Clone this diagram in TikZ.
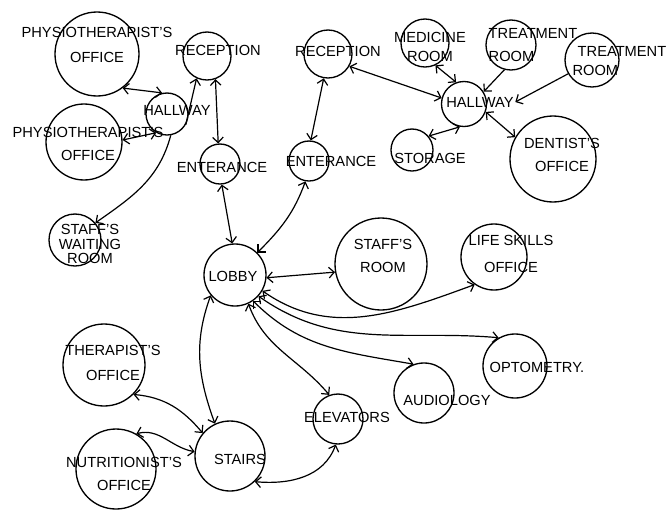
\documentclass[tikz,border=0pt]{standalone}
\usepackage{fontspec}
\setmainfont{Liberation Sans}
\usetikzlibrary{arrows.meta}
\tikzstyle{room} = [draw, circle, inner sep=0pt, line width=1pt]
\tikzstyle{tag} = [align=center, inner sep=1pt, font=\fontsize{11}{12.6}\selectfont]
\tikzstyle{arrow} = [line width=0.9pt, ->, >={Straight Barb[length=4pt,width=8pt]}]
\tikzstyle{both} = [arrow, <->]

\begin{document}
\begin{tikzpicture}[x=0.75pt, y=-0.75pt]
\useasboundingbox (0,0) rectangle (672,522);
% rooms
\node[room, minimum size=63pt] (phys1) at (97,54) {};
\node[room, minimum size=57pt] (phys2) at (84,142) {};
\node[room, minimum size=31.5pt] (hallL) at (167,114) {};
\node[room, minimum size=36pt] (recL) at (207,56) {};
\node[room, minimum size=30pt] (entL) at (220,164) {};
\node[room, minimum size=30pt] (entR) at (309,161) {};
\node[room, minimum size=36pt] (recR) at (328,54) {};
\node[room, minimum size=36pt] (med) at (425,43) {};
\node[room, minimum size=37.5pt] (treat1) at (511,45) {};
\node[room, minimum size=40.5pt] (treat2) at (592,60) {};
\node[room, minimum size=33.75pt] (hallR) at (464,104) {};
\node[room, minimum size=31.5pt] (stor) at (412,150) {};
\node[room, minimum size=64.5pt] (dent) at (553,159) {};
\node[room, minimum size=39pt] (waitR) at (75,240) {};
\node[room, minimum size=46.5pt] (lobby) at (235,275) {};
\node[room, minimum size=69pt] (staffR) at (381,264) {};
\node[room, minimum size=49.5pt] (life) at (494,257) {};
\node[room, minimum size=48pt] (opt) at (515,366) {};
\node[room, minimum size=45pt] (aud) at (424,393) {};
\node[room, minimum size=37.5pt] (elev) at (338,419) {};
\node[room, minimum size=61.5pt] (ther) at (104,365) {};
\node[room, minimum size=60pt] (nutr) at (116,469) {};
\node[room, minimum size=52.5pt] (stairs) at (230,456) {};
% names
\node[tag] (phys1T) at (97,45) {PHYSIOTHERAPIST'S\\[6pt]OFFICE};
\node[tag] (phys2T) at (88,144) {PHYSIOTHERAPIST'S\\[5pt]OFFICE};
\node[tag] (hallLT) at (177,110) {HALLWAY};
\node[tag] (recLT) at (218,50) {RECEPTION};
\node[tag] (entLT) at (222,167) {ENTERANCE};
\node[tag] (entRT) at (331,161) {ENTERANCE};
\node[tag] (recRT) at (338,51) {RECEPTION};
\node[tag] (medT) at (430,47) {MEDICINE\\[2pt]ROOM};
\node[tag, align=left] (treat1T) at (533,45) {TREATMENT\\[4pt]ROOM};
\node[tag] (treat2T) at (622,61) {TREATMENT\\[1pt]\hspace*{-40pt}ROOM};
\node[tag] (hallRT) at (480,102) {HALLWAY};
\node[tag] (storT) at (430,158) {STORAGE};
\node[tag] (dentT) at (562,155) {DENTIST'S\\[5pt]OFFICE};
\node[tag] (waitT) at (90,244) {STAFF'S\\[-2pt]WAITING\\[-2pt]ROOM};
\node[tag] (lobbyT) at (233,276) {LOBBY};
\node[tag] (staffRT) at (383,256) {STAFF'S\\[5pt]ROOM};
\node[tag] (lifeT) at (511,254) {LIFE SKILLS\\[7pt]OFFICE};
\node[tag] (optT) at (537,367) {OPTOMETRY.};
\node[tag] (audT) at (447,400) {AUDIOLOGY};
\node[tag] (elevT) at (347,417) {ELEVATORS};
\node[tag] (therT) at (113,363) {THERAPIST'S\\[6pt]OFFICE};
\node[tag] (nutrT) at (124,474) {NUTRITIONIST'S\\[5pt]OFFICE};
\node[tag] (stairsT) at (240,459) {STAIRS};
% upper floor
\draw[both] (hallL.103) -- (phys1.-53);
\draw[both] (hallL.240) -- (phys2.3);
\draw[arrow] (hallL.-30) -- (recL.245);
\draw[arrow] (hallL.-80) to[out=-105, in=35] (waitR.40);
\draw[both] (recL.-70) -- (entL.95);
\draw[both] (entR.85) -- (recR.-100);
\draw[both] (recR.-30) -- (hallR.165);
\draw[both] (med.-65) -- (hallR.110);
\draw[arrow] (treat1.-105) -- (hallR.32);
\draw[arrow] (treat2.210) -- (hallRT.east);
\draw[both] (hallR.-100) -- (stor.40);
\draw[both] (hallR.-20) -- (dent.150);
% ground floor
\draw[both] (entL.-85) -- (lobby.95);
\draw[both] (entR.-100) to[out=-110, in=45] (lobby.45);
\draw[both] (lobby.-5) -- (staffR.190);
\draw[both] (lobby.-30) to[out=-35, in=200] (life.235);
\draw[both] (lobby.-42) to[out=-35, in=175] (opt.120);
\draw[both] (lobby.-55) to[out=-45, in=170] (aud.110);
\draw[both] (lobby.-65) to[out=-70, in=130] (elev.110);
\draw[both] (lobby.220) to[out=-110, in=110] (stairs.115);
\draw[both] (ther.-45) to[out=-5, in=130] (stairs.140);
\draw[both] (nutr.60) to[out=15, in=170] (stairs.173);
\draw[both] (stairs.-46) to[out=-5, in=-110] (elev.-95);
\end{tikzpicture}
\end{document}
